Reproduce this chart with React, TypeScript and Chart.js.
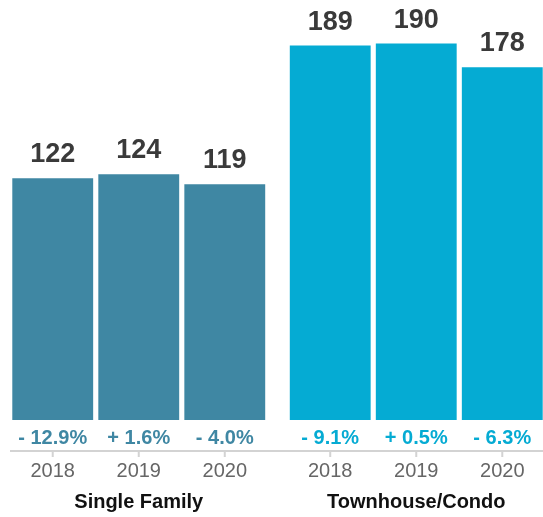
import React, { useEffect, useRef } from "react";
import { Chart, registerables } from "chart.js";

Chart.register(...registerables);

const categories = ["Single Family", "Townhouse/Condo"];
const years = ["2018", "2019", "2020"];
const singleFamily = [122, 124, 119];
const townhouse = [189, 190, 178];
const singleFamilyChange = ["- 12.9%", "+ 1.6%", "- 4.0%"];
const townhouseChange = ["- 9.1%", "+ 0.5%", "- 6.3%"];
const groupColors = ["#3f87a3", "#05abd3"];

const FONT = '"Liberation Sans", Arial, Helvetica, sans-serif';

const labelPlugin = {
  id: "labelPlugin",
  afterDatasetsDraw(chart: any) {
    const ctx = chart.ctx;
    const area = chart.chartArea;
    const changes = [singleFamilyChange, townhouseChange];
    ctx.save();
    // axis line
    const axisY = area.bottom + 31;
    ctx.strokeStyle = "#d3d3d3";
    ctx.lineWidth = 2;
    ctx.beginPath();
    ctx.moveTo(area.left + 10, axisY);
    ctx.lineTo(chart.width, axisY);
    ctx.stroke();

    chart.data.datasets.forEach((ds: any, di: number) => {
      const meta = chart.getDatasetMeta(di);
      meta.data.forEach((bar: any, gi: number) => {
        const x = bar.x;
        // value label
        ctx.fillStyle = "#3a3a3a";
        ctx.font = `bold 27px ${FONT}`;
        ctx.textAlign = "center";
        ctx.textBaseline = "alphabetic";
        ctx.fillText(String(ds.data[gi]), x, bar.y - 16);
        // change label
        ctx.fillStyle = groupColors[gi];
        ctx.font = `bold 20px ${FONT}`;
        ctx.textBaseline = "middle";
        ctx.fillText(changes[gi][di], x, area.bottom + 18);
        // tick
        ctx.strokeStyle = "#d3d3d3";
        ctx.lineWidth = 2;
        ctx.beginPath();
        ctx.moveTo(x, axisY);
        ctx.lineTo(x, axisY + 6);
        ctx.stroke();
        // year
        ctx.fillStyle = "#666666";
        ctx.font = `20px ${FONT}`;
        ctx.textBaseline = "middle";
        ctx.fillText(years[di], x, area.bottom + 51);
      });
    });

    const xScale = chart.scales.x;
    ctx.fillStyle = "#111111";
    ctx.font = `bold 20px ${FONT}`;
    ctx.textAlign = "center";
    ctx.textBaseline = "alphabetic";
    categories.forEach((c, i) => {
      ctx.fillText(c, xScale.getPixelForValue(i), area.bottom + 88);
    });
    ctx.restore();
  },
};

export default function App() {
  const ref = useRef<HTMLCanvasElement>(null);
  useEffect(() => {
    if (!ref.current) return;
    const chart = new Chart(ref.current, {
      type: "bar",
      data: {
        labels: categories,
        datasets: years.map((y, i) => ({
          label: y,
          data: [singleFamily[i], townhouse[i]],
          backgroundColor: groupColors,
          borderWidth: 0,
          categoryPercentage: 0.93,
          barPercentage: 0.94,
        })),
      },
      options: {
        animation: false,
        responsive: false,
        layout: { padding: { top: 0, bottom: 97, left: 0, right: 0 } },
        plugins: { legend: { display: false }, tooltip: { enabled: false } },
        scales: {
          x: { display: false },
          y: { display: false, min: 0, max: 212 },
        },
      },
      plugins: [labelPlugin],
    });
    return () => chart.destroy();
  }, []);
  return (
    <div
      style={{
        position: "absolute",
        left: 0,
        top: 0,
        width: 543,
        height: 517,
        overflow: "hidden",
      }}
    >
      <canvas
        ref={ref}
        width={555}
        height={517}
        style={{ display: "block", width: 555, height: 517 }}
      />
    </div>
  );
}
